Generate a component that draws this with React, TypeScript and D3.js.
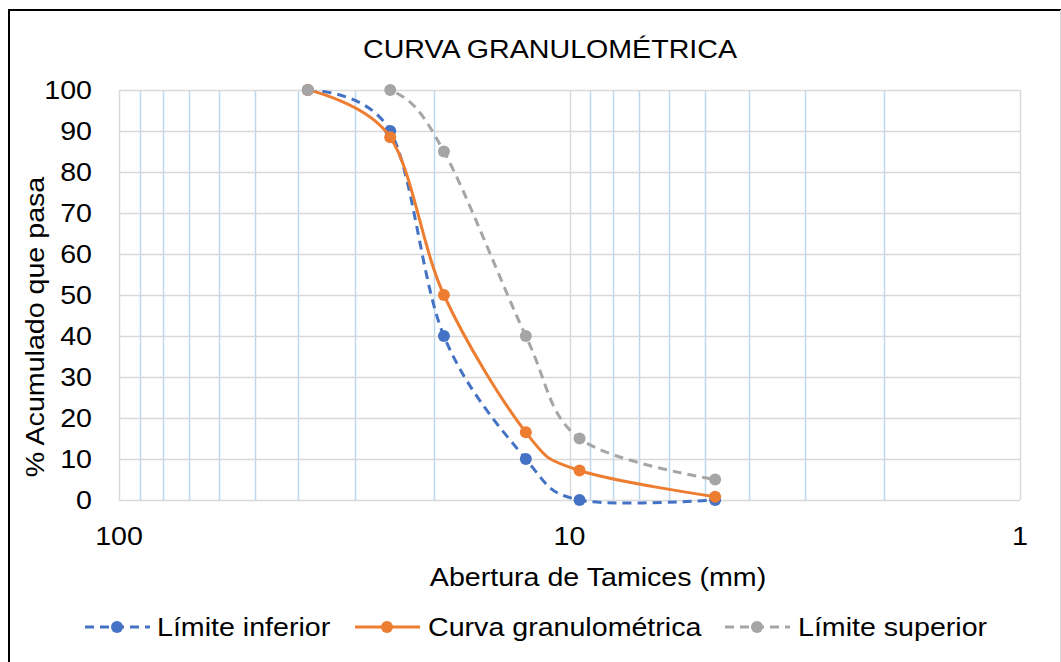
import React from "react";
import * as d3 from "d3";

const sieves = [38.1, 25, 19, 12.5, 9.5, 4.75];
const limiteInferior = [100, 90, 40, 10, 0, 0];
const curvaGranulometrica = [100, 88.5, 50, 16.5, 7.2, 0.8];
const limiteSuperior = [100, 100, 85, 40, 15, 5];
const yTicks = [0, 10, 20, 30, 40, 50, 60, 70, 80, 90, 100];
const xMajorTicks = [100, 10, 1];
const xMinorTicks = [90, 80, 70, 60, 50, 40, 30, 20, 9, 8, 7, 6, 5, 4, 3, 2];

const W = 1061;
const H = 662;
const FONT = "'Liberation Sans', Arial, sans-serif";
const SX = 1.1;

const series = [
  { name: "Límite inferior", values: limiteInferior, color: "#4472C4", dash: "9,6" },
  { name: "Curva granulométrica", values: curvaGranulometrica, color: "#ED7D31", dash: null },
  { name: "Límite superior", values: limiteSuperior, color: "#A5A5A5", dash: "9,6" },
];

function T({ x, y, anchor = "start", size = 26, children, rotate = 0 }: any) {
  const tr = rotate
    ? `translate(${x},${y}) rotate(${rotate}) scale(${SX},1)`
    : `translate(${x},${y}) scale(${SX},1)`;
  return (
    <text transform={tr} textAnchor={anchor} fontFamily={FONT} fontSize={size} fill="#000">
      {children}
    </text>
  );
}

export default function App() {
  const x = d3.scaleLog().domain([100, 1]).range([119, 1020]);
  const y = d3.scaleLinear().domain([0, 100]).range([500, 90]);
  const line = d3
    .line<number>()
    .x((_, i) => x(sieves[i]))
    .y((d) => y(d))
    .curve(d3.curveCardinal.tension(0));

  const legendItems = [
    { lx: 85, tx: 157 },
    { lx: 355, tx: 428 },
    { lx: 725, tx: 798 },
  ];

  return (
    <svg
      width={W}
      height={H}
      style={{ position: "absolute", left: 0, top: 0, background: "#fff" }}
    >
      <defs>
        <clipPath id="plotClip">
          <rect x={x(100)} y={y(100)} width={x(1) - x(100)} height={y(0) - y(100) + 6} />
        </clipPath>
      </defs>
      <rect x={0} y={0} width={W} height={H} fill="#fff" />
      <line x1={8} y1={10} x2={W} y2={10} stroke="#000" strokeWidth={2} />
      <line x1={9} y1={9} x2={9} y2={H} stroke="#000" strokeWidth={2} />
      <line x1={1060.5} y1={10} x2={1060.5} y2={H} stroke="#D9D9D9" strokeWidth={1} />

      {xMinorTicks.map((v) => (
        <line
          key={"m" + v}
          x1={Math.round(x(v)) + 0.5}
          x2={Math.round(x(v)) + 0.5}
          y1={y(100)}
          y2={y(0)}
          stroke="#BDD7EE"
          strokeWidth={1.5}
        />
      ))}
      {yTicks.map((v) => (
        <line
          key={"h" + v}
          x1={x(100)}
          x2={x(1)}
          y1={Math.round(y(v)) + 0.5}
          y2={Math.round(y(v)) + 0.5}
          stroke="#D9D9D9"
          strokeWidth={1.5}
        />
      ))}
      {xMajorTicks.map((v) => (
        <line
          key={"M" + v}
          x1={Math.round(x(v)) + 0.5}
          x2={Math.round(x(v)) + 0.5}
          y1={y(100)}
          y2={y(0)}
          stroke="#D9D9D9"
          strokeWidth={1.5}
        />
      ))}

      {series.map((s) => (
        <g key={s.name}>
          <path
            d={line(s.values) || ""}
            fill="none"
            stroke={s.color}
            strokeWidth={3}
            strokeDasharray={s.dash || undefined}
            strokeLinecap="butt"
            clipPath="url(#plotClip)"
          />
          {s.values.map((v, i) => (
            <circle key={i} cx={x(sieves[i])} cy={y(v)} r={6} fill={s.color} />
          ))}
        </g>
      ))}

      {yTicks.map((v) => (
        <T key={"yl" + v} x={92} y={y(v) + 9} anchor="end">
          {v}
        </T>
      ))}
      {xMajorTicks.map((v) => (
        <T key={"xl" + v} x={x(v)} y={545} anchor="middle">
          {v}
        </T>
      ))}

      <T x={550} y={58} anchor="middle">CURVA GRANULOMÉTRICA</T>
      <T x={598} y={586} anchor="middle">Abertura de Tamices (mm)</T>
      <T x={44} y={327} anchor="middle" rotate={-90}>% Acumulado que pasa</T>

      {series.map((s, i) => (
        <g key={"lg" + s.name}>
          <line
            x1={legendItems[i].lx}
            x2={legendItems[i].lx + 65}
            y1={627}
            y2={627}
            stroke={s.color}
            strokeWidth={3}
            strokeDasharray={s.dash || undefined}
          />
          <circle cx={legendItems[i].lx + 32} cy={627} r={6} fill={s.color} />
          <T x={legendItems[i].tx} y={636}>{s.name}</T>
        </g>
      ))}
    </svg>
  );
}
